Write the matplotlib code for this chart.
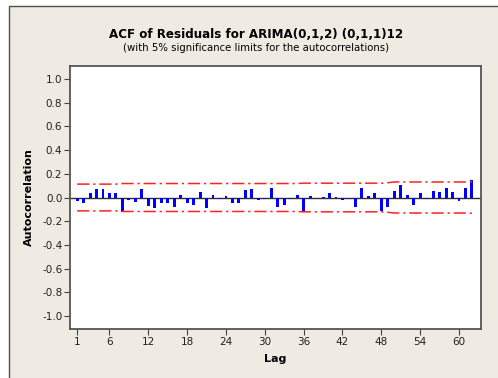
import matplotlib
matplotlib.use("Agg")
import matplotlib.pyplot as plt
from matplotlib.patches import Rectangle

plt.rcParams['font.family'] = ['DejaVu Sans']

title = "ACF of Residuals for ARIMA(0,1,2) (0,1,1)12"
subtitle = "(with 5% significance limits for the autocorrelations)"
x_label = "Lag"
y_label = "Autocorrelation"

lags = list(range(1, 63))
acf = [-0.030, -0.045, 0.035, 0.070, 0.070, 0.040, 0.035, -0.120, -0.020, -0.035,
       0.075, -0.075, -0.085, -0.045, -0.050, -0.080, 0.020, -0.045, -0.060, 0.050,
       -0.085, 0.025, -0.015, 0.010, -0.045, -0.050, 0.060, 0.070, -0.020, -0.015,
       0.080, -0.080, -0.060, -0.010, 0.025, -0.120, 0.015, -0.005, 0.005, 0.040,
       0.005, -0.020, -0.015, -0.080, 0.080, 0.010, 0.040, -0.110, -0.080, 0.055,
       0.105, 0.025, -0.060, 0.040, -0.010, 0.055, 0.045, 0.080, 0.045, -0.030,
       0.080, 0.150]
limits = [0.113] * 7 + [0.118] * 28 + [0.121] * 13 + [0.125] + [0.131] * 12 + [0.133]

x_ticks = [1, 6, 12, 18, 24, 30, 36, 42, 48, 54, 60]
y_ticks = [-1.0, -0.8, -0.6, -0.4, -0.2, 0.0, 0.2, 0.4, 0.6, 0.8, 1.0]

W, H = 498, 378
fig = plt.figure(figsize=(W / 100, H / 100), dpi=100)
fig.patch.set_facecolor('white')
panel = Rectangle((9 / W, -0.05), 1.1, (H - 6) / H + 0.05, transform=fig.transFigure,
                  facecolor='#EFEBE2', edgecolor='#505050', linewidth=1.0, zorder=-10)
fig.patches.append(panel)

ax = fig.add_axes([70 / W, (H - 329) / H, 411 / W, 263 / H])
ax.set_facecolor('white')

ax.axhline(0, color='#303030', linewidth=1.0, zorder=2)
ax.bar(lags, acf, width=0.45, color='#0000FF', zorder=3)
upper = limits
lower = [-v for v in limits]
ax.plot(lags, upper, color='#FF2222', linewidth=1.1, dashes=(8, 2.5, 1.5, 2.5), zorder=4)
ax.plot(lags, lower, color='#FF2222', linewidth=1.1, dashes=(8, 2.5, 1.5, 2.5), zorder=4)

ax.set_xlim(-0.1, 63.4)
ax.set_ylim(-1.11, 1.11)
ax.set_xticks(x_ticks)
ax.set_xticklabels([str(t) for t in x_ticks])
ax.set_yticks(y_ticks)
ax.set_yticklabels([f"{t:.1f}" for t in y_ticks])
ax.tick_params(axis='both', direction='out', length=4, width=0.8, color='#404040',
               labelsize=7.5, pad=1.5, labelcolor='#202020')
for s in ax.spines.values():
    s.set_color('#555555')
    s.set_linewidth(1.3)

ax.set_xlabel(x_label, fontsize=8, fontweight='bold', labelpad=5)
ax.set_ylabel(y_label, fontsize=8, fontweight='bold', labelpad=6)

fig.text(256 / W, 1 - 34 / H, title, ha='center', va='center', fontsize=8.6, fontweight='bold')
fig.text(256 / W, 1 - 48 / H, subtitle, ha='center', va='center', fontsize=7.3)

fig.savefig('out.png', dpi=100)
